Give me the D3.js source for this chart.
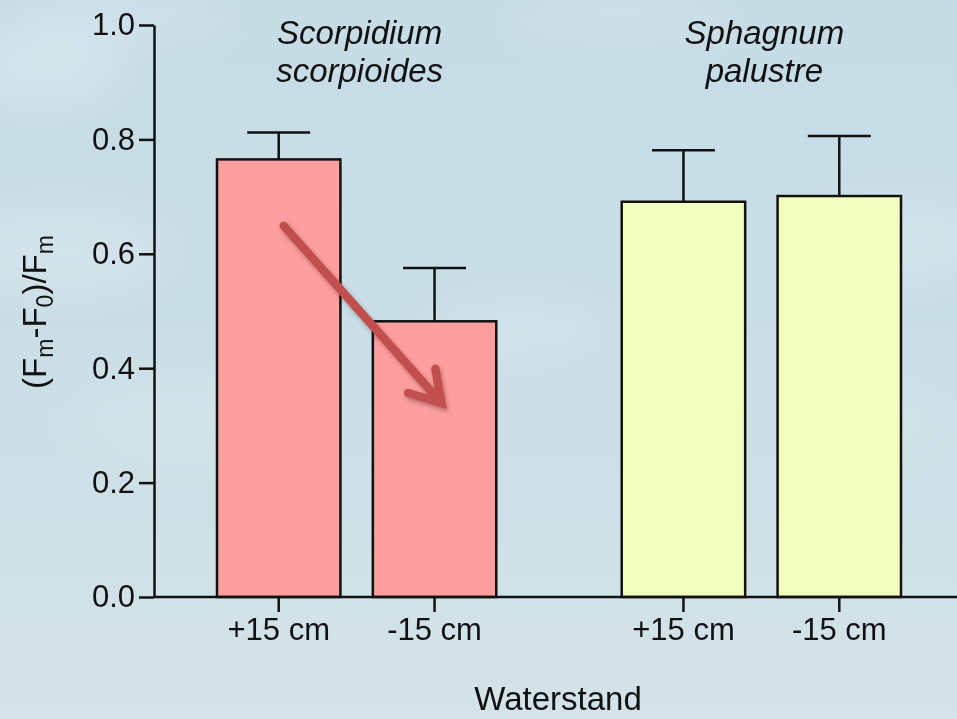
<!DOCTYPE html>
<html>
<head>
<meta charset="utf-8">
<script src="https://cdn.jsdelivr.net/npm/d3@7"></script>
<style>
  html, body { margin: 0; padding: 0; background: #cde0e8; }
  svg { display: block; font-family: "Liberation Sans", Arial, Helvetica, sans-serif; }
</style>
</head>
<body>
<svg id="chart" width="957" height="719"></svg>
<script>
// Species groups and water-table treatments
const species = ["Scorpidium scorpioides", "Sphagnum palustre"];
const speciesLines = [["Scorpidium", "scorpioides"], ["Sphagnum", "palustre"]];
const treatments = ["+15 cm", "-15 cm"];
const groupColors = ["#ff9e9e", "#f2ffbe"];

// Mean (Fm-F0)/Fm and upper error per species × treatment
const meanScorpidium = [0.765, 0.482];
const errScorpidium = [0.047, 0.093];
const meanSphagnum = [0.691, 0.701];
const errSphagnum = [0.090, 0.105];

const yTicks = [0.0, 0.2, 0.4, 0.6, 0.8, 1.0];

// Decline arrow, in data coordinates (group, treatment, value)
const arrowFrom = { group: 0, treat: 0, value: 0.649, dx: 5 };
const arrowTo = { group: 0, treat: 1, value: 0.339, dx: 7 };

const means = [meanScorpidium, meanSphagnum];
const errs = [errScorpidium, errSphagnum];
const rows = [];
species.forEach((s, gi) => treatments.forEach((t, ti) => {
  rows.push({ species: s, gi, treatment: t, ti, mean: means[gi][ti], err: errs[gi][ti] });
}));

const svg = d3.select("#chart");
const W = 957, H = 719;

// ----- sky background -----
const defs = svg.append("defs");
const sky = defs.append("linearGradient").attr("id", "sky")
  .attr("x1", 0).attr("y1", 0).attr("x2", 0).attr("y2", 1);
sky.append("stop").attr("offset", "0%").attr("stop-color", "#c6dce6");
sky.append("stop").attr("offset", "45%").attr("stop-color", "#cadee7");
sky.append("stop").attr("offset", "100%").attr("stop-color", "#d3e3e8");
svg.append("rect").attr("width", W).attr("height", H).attr("fill", "url(#sky)");

const cloudBlur = defs.append("filter").attr("id", "cloudBlur")
  .attr("x", "-50%").attr("y", "-50%").attr("width", "200%").attr("height", "200%");
cloudBlur.append("feGaussianBlur").attr("stdDeviation", 24);
const clouds = [
  [40, 70, 90, 40, 0.22], [120, 15, 120, 22, 0.2], [60, 250, 110, 45, 0.18],
  [900, 240, 90, 40, 0.18], [620, 15, 120, 22, 0.18], [520, 330, 100, 30, 0.14],
  [180, 420, 120, 50, 0.1], [880, 420, 80, 40, 0.1]
];
svg.append("g").attr("filter", "url(#cloudBlur)")
  .selectAll("ellipse").data(clouds).join("ellipse")
  .attr("cx", d => d[0]).attr("cy", d => d[1]).attr("rx", d => d[2]).attr("ry", d => d[3])
  .attr("fill", "#ffffff").attr("opacity", d => d[4]);

// ----- scales -----
const y = d3.scaleLinear().domain([0, 1]).range([597, 25]);
const xGroup = d3.scaleBand().domain(d3.range(species.length))
  .range([217, 901]).paddingInner(0.31).paddingOuter(0);
const xTreat = d3.scaleBand().domain(d3.range(treatments.length))
  .range([0, xGroup.bandwidth()]).paddingInner(0.208).paddingOuter(0);

const barX = d => xGroup(d.gi) + xTreat(d.ti);
const barC = d => barX(d) + xTreat.bandwidth() / 2;

const axisColor = "#111";
const lw = 2.5;

// ----- bars -----
const barG = svg.append("g");
barG.selectAll("rect").data(rows).join("rect")
  .attr("x", barX)
  .attr("y", d => y(d.mean))
  .attr("width", xTreat.bandwidth())
  .attr("height", d => y(0) - y(d.mean))
  .attr("fill", d => groupColors[d.gi])
  .attr("stroke", axisColor)
  .attr("stroke-width", lw);

// ----- error bars (upper only) -----
const capHalf = xTreat.bandwidth() * 0.255;
const errG = svg.append("g").attr("stroke", axisColor).attr("stroke-width", lw);
errG.selectAll("line.v").data(rows).join("line").attr("class", "v")
  .attr("x1", barC).attr("x2", barC)
  .attr("y1", d => y(d.mean)).attr("y2", d => y(d.mean + d.err));
errG.selectAll("line.cap").data(rows).join("line").attr("class", "cap")
  .attr("x1", d => barC(d) - capHalf).attr("x2", d => barC(d) + capHalf)
  .attr("y1", d => y(d.mean + d.err)).attr("y2", d => y(d.mean + d.err));

// ----- y axis -----
const yAxis = svg.append("g").attr("transform", "translate(154,0)")
  .call(d3.axisLeft(y).tickValues(yTicks).tickFormat(d3.format(".1f"))
    .tickSize(15).tickSizeOuter(0).tickPadding(4));
yAxis.select(".domain").attr("stroke", axisColor).attr("stroke-width", lw);
yAxis.selectAll(".tick line").attr("stroke", axisColor).attr("stroke-width", lw);
yAxis.selectAll(".tick text").attr("font-size", 31).attr("fill", "#111")
  .attr("font-family", "'Liberation Sans', Arial, sans-serif");

// ----- x axis -----
svg.append("line").attr("x1", 154).attr("x2", W).attr("y1", y(0)).attr("y2", y(0))
  .attr("stroke", axisColor).attr("stroke-width", lw);
species.forEach((s, gi) => {
  const ax = svg.append("g").attr("transform", `translate(${xGroup(gi)},${y(0)})`)
    .call(d3.axisBottom(xTreat).tickFormat(i => treatments[i])
      .tickSize(15).tickSizeOuter(0).tickPadding(6));
  ax.select(".domain").remove();
  ax.selectAll(".tick line").attr("stroke", axisColor).attr("stroke-width", lw);
  ax.selectAll(".tick text").attr("font-size", 31).attr("fill", "#111")
    .attr("font-family", "'Liberation Sans', Arial, sans-serif");
});

// ----- species titles -----
species.forEach((s, gi) => {
  const cx = xGroup(gi) + xGroup.bandwidth() / 2 + 3;
  const t = svg.append("text").attr("x", cx).attr("y", 44)
    .attr("text-anchor", "middle").attr("font-size", 33)
    .attr("font-style", "italic").attr("fill", "#111");
  speciesLines[gi].forEach((ln, li) => {
    t.append("tspan").attr("x", cx).attr("dy", li === 0 ? 0 : 38).text(ln);
  });
});

// ----- axis titles -----
svg.append("text").attr("x", 558).attr("y", 710).attr("text-anchor", "middle")
  .attr("font-size", 33).attr("fill", "#111").text("Waterstand");

const yl = svg.append("text").attr("transform", "translate(46,312) rotate(-90)")
  .attr("text-anchor", "middle").attr("font-size", 33).attr("fill", "#111");
yl.append("tspan").text("(F");
yl.append("tspan").attr("font-size", 23).attr("dy", 7).text("m");
yl.append("tspan").attr("dy", -7).text("-F");
yl.append("tspan").attr("font-size", 23).attr("dy", 7).text("0");
yl.append("tspan").attr("dy", -7).text(")/F");
yl.append("tspan").attr("font-size", 23).attr("dy", 7).text("m");

// ----- decline arrow -----
const shadow = defs.append("filter").attr("id", "arrowShadow")
  .attr("x", "-20%").attr("y", "-20%").attr("width", "140%").attr("height", "140%");
shadow.append("feDropShadow").attr("dx", 1.5).attr("dy", 2.5).attr("stdDeviation", 2)
  .attr("flood-color", "#000").attr("flood-opacity", 0.3);

const ax0 = xGroup(arrowFrom.group) + xTreat(arrowFrom.treat) + xTreat.bandwidth() / 2 + arrowFrom.dx;
const ay0 = y(arrowFrom.value);
const ax1 = xGroup(arrowTo.group) + xTreat(arrowTo.treat) + xTreat.bandwidth() / 2 + arrowTo.dx;
const ay1 = y(arrowTo.value);
const ang = Math.atan2(ay1 - ay0, ax1 - ax0);
const headLen = 35, headSpread = 0.55;
const h1 = [ax1 - headLen * Math.cos(ang - headSpread), ay1 - headLen * Math.sin(ang - headSpread)];
const h2 = [ax1 - headLen * Math.cos(ang + headSpread), ay1 - headLen * Math.sin(ang + headSpread)];
const arrowPath = d3.path();
arrowPath.moveTo(ax0, ay0); arrowPath.lineTo(ax1 - 4 * Math.cos(ang), ay1 - 4 * Math.sin(ang));
arrowPath.moveTo(h1[0], h1[1]); arrowPath.lineTo(ax1, ay1); arrowPath.lineTo(h2[0], h2[1]);
svg.append("path").attr("d", arrowPath.toString())
  .attr("fill", "none").attr("stroke", "#c0504d").attr("stroke-width", 8.5)
  .attr("stroke-linecap", "round").attr("stroke-linejoin", "miter")
  .attr("filter", "url(#arrowShadow)");
</script>
</body>
</html>
